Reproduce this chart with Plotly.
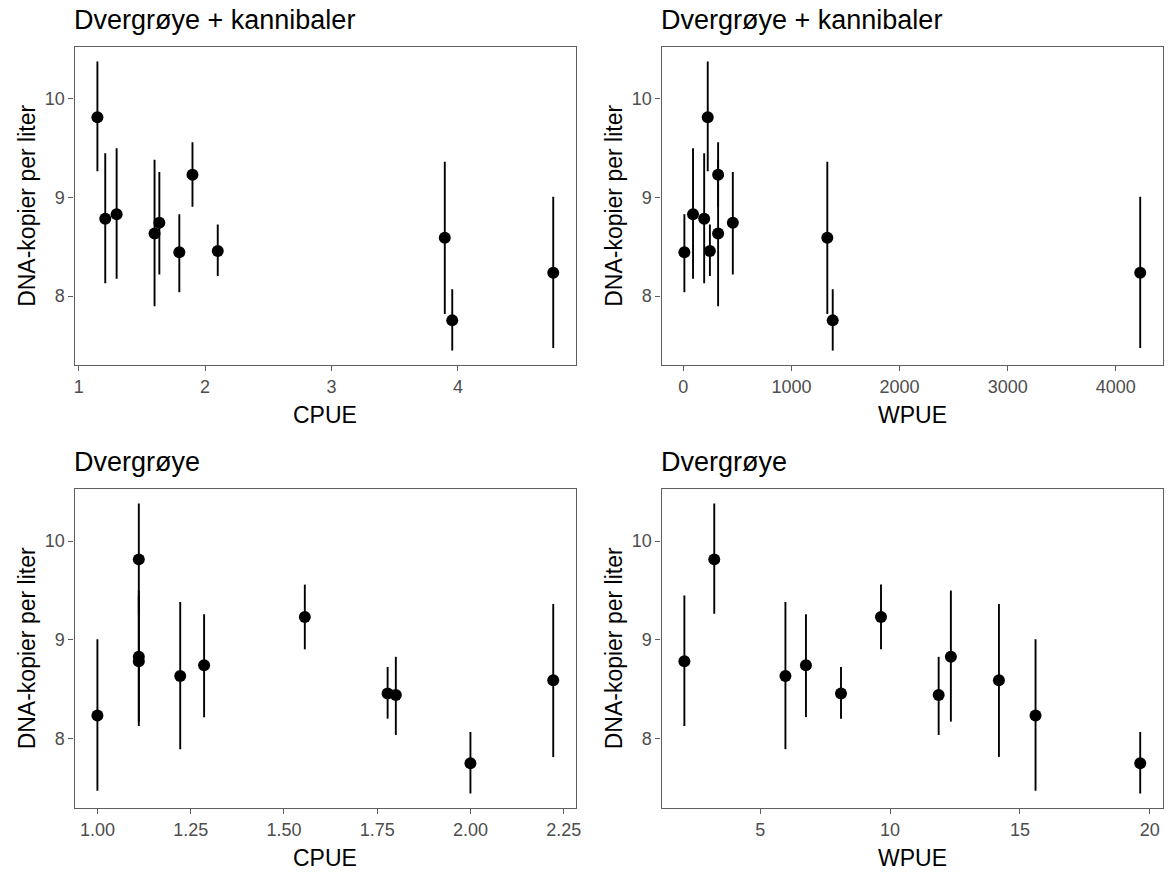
import plotly.graph_objects as go

# ---- data ----
y_mean = [9.815, 8.785, 8.83, 8.636, 8.744, 8.444, 9.232, 8.458, 8.593, 7.754, 8.236]
y_lo = [9.266, 8.13, 8.175, 7.896, 8.22, 8.04, 8.906, 8.205, 7.818, 7.448, 7.475]
y_hi = [10.38, 9.45, 9.50, 9.384, 9.26, 8.83, 9.56, 8.727, 9.364, 8.07, 9.007]

cpue_total = [1.148, 1.21, 1.30, 1.60, 1.638, 1.796, 1.90, 2.10, 3.896, 3.955, 4.754]
wpue_total = [226, 193, 90, 322, 458, 10, 322, 246, 1332, 1382, 4226]
cpue_dverg = [1.111, 1.111, 1.111, 1.222, 1.286, 1.8, 1.556, 1.778, 2.222, 2.0, 1.0]
wpue_dverg = [3.23, 2.08, 12.34, 5.97, 6.76, 11.87, 9.65, 8.11, 14.19, 19.63, 15.60]

titles = ["Dvergrøye + kannibaler", "Dvergrøye + kannibaler", "Dvergrøye", "Dvergrøye"]
x_titles = ["CPUE", "WPUE", "CPUE", "WPUE"]
y_title = "DNA-kopier per liter"
x_ticks = [[1, 2, 3, 4], [0, 1000, 2000, 3000, 4000],
           [1.00, 1.25, 1.50, 1.75, 2.00, 2.25], [5, 10, 15, 20]]
x_tickfmt = ["d", "d", ".2f", "d"]
y_ticks = [8, 9, 10]

W, H = 1169, 872
FONT = "Liberation Sans, Arial, sans-serif"
BORDER = "#5f5f5f"
TICKCOL = "#4d4d4d"


def expand(vals, f=0.05):
    lo, hi = min(vals), max(vals)
    d = (hi - lo) * f
    return [lo - d, hi + d]


err_plus = [h - m for h, m in zip(y_hi, y_mean)]
err_minus = [m - l for m, l in zip(y_mean, y_lo)]
y_range = expand(y_lo + y_hi)

# panel pixel boxes (left, right, top, bottom)
boxes = [(74, 578, 47, 365), (664, 1168, 47, 365),
         (74, 578, 489, 808), (664, 1168, 489, 808)]
xs = [cpue_total, wpue_total, cpue_dverg, wpue_dverg]

fig = go.Figure()
annotations = []
for i, (xv, box) in enumerate(zip(xs, boxes)):
    n = i + 1
    xa = "x" if n == 1 else f"x{n}"
    ya = "y" if n == 1 else f"y{n}"
    fig.add_trace(go.Scatter(
        x=xv, y=y_mean, mode="markers", xaxis=xa, yaxis=ya,
        marker=dict(color="black", size=12),
        error_y=dict(type="data", symmetric=False, array=err_plus,
                     arrayminus=err_minus, width=0, thickness=1.9,
                     color="black"),
        showlegend=False, hoverinfo="x+y"))
    l, r, t, b = box
    axis_common = dict(showline=True, linecolor=BORDER, linewidth=1.4,
                       mirror=True, ticks="outside", ticklen=5,
                       tickcolor=BORDER, tickwidth=1.2, showgrid=False,
                       zeroline=False,
                       tickfont=dict(family=FONT, size=18, color=TICKCOL))
    fig.update_layout(**{
        ("xaxis" if n == 1 else f"xaxis{n}"): dict(
            domain=[l / W, r / W], anchor=ya, range=expand(xv),
            tickvals=x_ticks[i], tickformat=x_tickfmt[i], **axis_common),
        ("yaxis" if n == 1 else f"yaxis{n}"): dict(
            domain=[1 - b / H, 1 - t / H], anchor=xa, range=y_range,
            tickvals=y_ticks, **axis_common),
    })
    # panel title
    annotations.append(dict(text=titles[i], x=(l - 3) / W, y=1 - (t - 27) / H,
                            xref="paper", yref="paper", xanchor="left",
                            yanchor="middle", showarrow=False,
                            font=dict(family=FONT, size=27, color="black")))
    # x axis title
    annotations.append(dict(text=x_titles[i], x=(l + r) / 2 / W,
                            y=1 - (b + 50) / H, xref="paper", yref="paper",
                            xanchor="center", yanchor="middle", showarrow=False,
                            font=dict(family=FONT, size=23, color="black")))
    # y axis title
    annotations.append(dict(text=y_title, x=(l - 48) / W, y=1 - (t + b) / 2 / H,
                            xref="paper", yref="paper", xanchor="center",
                            yanchor="middle", textangle=-90, showarrow=False,
                            font=dict(family=FONT, size=23, color="black")))

fig.update_layout(width=W, height=H, margin=dict(l=0, r=0, t=0, b=0),
                  plot_bgcolor="white", paper_bgcolor="white",
                  annotations=annotations, font=dict(family=FONT))

fig.write_html("out.html", config={"displayModeBar": False},
               post_script="document.body.style.margin='0';")
